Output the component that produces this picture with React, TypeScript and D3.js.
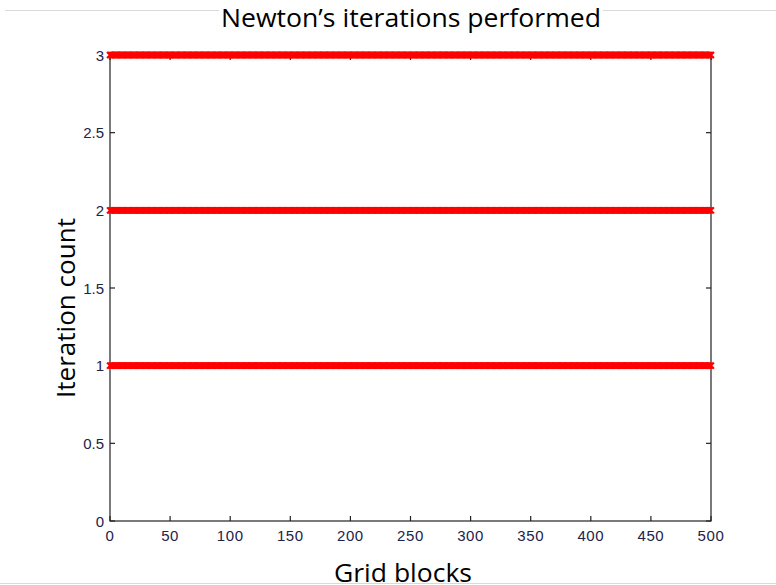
import React, { useEffect, useRef } from "react";
import * as d3 from "d3";

// Grid block indices and the Newton iteration counts recorded for each block
const blockCount = 500;
const blocks: number[] = d3.range(0, blockCount + 1);
const iterationLevels: number[] = [1, 2, 3];

const xTicks: number[] = [0, 50, 100, 150, 200, 250, 300, 350, 400, 450, 500];
const yTicks: number[] = [0, 0.5, 1, 1.5, 2, 2.5, 3];
const yTickLabels: string[] = ["0", "0.5", "1", "1.5", "2", "2.5", "3"];

const W = 776;
const H = 585;
const plot = { left: 110, right: 711, top: 55, bottom: 521 };

export default function App() {
  const ref = useRef<SVGSVGElement | null>(null);

  useEffect(() => {
    const svg = d3.select(ref.current);
    svg.selectAll("*").remove();

    const x = d3.scaleLinear().domain([0, 500]).range([plot.left, plot.right]);
    const y = d3.scaleLinear().domain([0, 3]).range([plot.bottom, plot.top]);

    svg.append("rect").attr("width", W).attr("height", H).attr("fill", "#fff");

    // thin page rules above and below the figure
    svg.append("line").attr("x1", 5).attr("x2", W).attr("y1", 10.5).attr("y2", 10.5)
      .attr("stroke", "#d9d9d9").attr("stroke-width", 1);
    svg.append("line").attr("x1", 0).attr("x2", W).attr("y1", 583.5).attr("y2", 583.5)
      .attr("stroke", "#d9d9d9").attr("stroke-width", 1);

    // axes box
    svg.append("rect")
      .attr("x", plot.left).attr("y", plot.top)
      .attr("width", plot.right - plot.left).attr("height", plot.bottom - plot.top)
      .attr("fill", "none").attr("stroke", "#222").attr("stroke-width", 1.2);

    const tickLen = 5;
    const tickG = svg.append("g").attr("stroke", "#222").attr("stroke-width", 1.2);
    xTicks.forEach((t) => {
      const px = x(t);
      tickG.append("line").attr("x1", px).attr("x2", px).attr("y1", plot.bottom).attr("y2", plot.bottom - tickLen);
      tickG.append("line").attr("x1", px).attr("x2", px).attr("y1", plot.top).attr("y2", plot.top + tickLen);
    });
    yTicks.forEach((t) => {
      const py = y(t);
      tickG.append("line").attr("x1", plot.left).attr("x2", plot.left + tickLen).attr("y1", py).attr("y2", py);
      tickG.append("line").attr("x1", plot.right).attr("x2", plot.right - tickLen).attr("y1", py).attr("y2", py);
    });

    const tickFont = "'Liberation Sans', Arial, sans-serif";
    svg.append("g").selectAll("text").data(xTicks).join("text")
      .attr("x", (d) => x(d)).attr("y", plot.bottom + 19.5)
      .attr("text-anchor", "middle")
      .attr("font-family", tickFont).attr("font-size", 15).attr("fill", "#22224a")
      .attr("letter-spacing", 0.6)
      .text((d) => String(d));
    svg.append("g").selectAll("text").data(yTicks).join("text")
      .attr("x", plot.left - 6).attr("y", (d) => y(d) + 5.5)
      .attr("text-anchor", "end")
      .attr("font-family", tickFont).attr("font-size", 15).attr("fill", "#22224a")
      .text((_d, i) => yTickLabels[i]);

    // red 'x' markers for every block at every iteration level
    const pts = iterationLevels.flatMap((lvl) => blocks.map((b) => ({ b, lvl })));
    const s = 3;
    svg.append("g").selectAll("path").data(pts).join("path")
      .attr("d", (d) => {
        const cx = x(d.b);
        const cy = y(d.lvl);
        return `M${cx - s},${cy - s}L${cx + s},${cy + s}M${cx - s},${cy + s}L${cx + s},${cy - s}`;
      })
      .attr("stroke", "#ff0000").attr("stroke-width", 2).attr("fill", "none");

    const labelFont = "'Open Sans', 'Noto Sans', sans-serif";
    const titleBg = svg.append("rect").attr("fill", "#fff");
    const title = svg.append("text")
      .attr("x", 411).attr("y", 26.5)
      .attr("text-anchor", "middle")
      .attr("font-family", labelFont).attr("font-size", 25).attr("fill", "#000")
      .attr("textLength", 380).attr("lengthAdjust", "spacingAndGlyphs")
      .text("Newton\u2019s iterations performed");
    const bb = (title.node() as SVGTextElement).getBBox();
    titleBg.attr("x", bb.x - 2).attr("y", 4).attr("width", bb.width + 4).attr("height", 12);

    svg.append("text")
      .attr("x", 403).attr("y", 581.5)
      .attr("text-anchor", "middle")
      .attr("font-family", labelFont).attr("font-size", 25).attr("fill", "#000")
      .attr("textLength", 138).attr("lengthAdjust", "spacingAndGlyphs")
      .text("Grid blocks");

    svg.append("text")
      .attr("transform", `translate(75,308) rotate(-90)`)
      .attr("text-anchor", "middle")
      .attr("font-family", labelFont).attr("font-size", 25).attr("fill", "#000")
      .attr("textLength", 180).attr("lengthAdjust", "spacingAndGlyphs")
      .text("Iteration count");
  }, []);

  return (
    <svg
      ref={ref}
      width={W}
      height={H}
      style={{ position: "absolute", left: 0, top: 0, display: "block" }}
    />
  );
}
